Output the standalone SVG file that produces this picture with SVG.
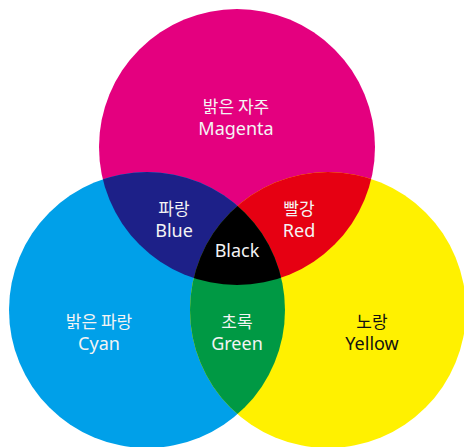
<svg xmlns="http://www.w3.org/2000/svg" width="464" height="447" viewBox="0 0 464 447">
<style>
.k{font-family:"Noto Sans CJK KR","Noto Sans",sans-serif;font-size:17px;text-anchor:middle;fill:#f4f4f4}
.e{font-family:"Noto Sans","Open Sans",sans-serif;font-size:18px;text-anchor:middle;fill:#f4f4f4}
.d{fill:#111}
</style>
<defs>
<clipPath id="cm"><circle cx="237" cy="147" r="138"/></clipPath>
<clipPath id="cc"><circle cx="147" cy="310" r="138"/></clipPath>
</defs>
<rect width="464" height="447" fill="#fff"/>
<g id="magenta"><circle cx="237" cy="147" r="138" fill="#E4007F"/><text class="k" x="236" y="113">밝은 자주</text><text class="e" x="236" y="135">Magenta</text></g>
<g id="cyan"><circle cx="147" cy="310" r="138" fill="#00A0E9"/><text class="k" x="99" y="328">밝은 파랑</text><text class="e" x="99" y="350">Cyan</text></g>
<g id="yellow"><circle cx="328" cy="310" r="138" fill="#FFF100"/><text class="k d" x="372" y="328">노랑</text><text class="e d" x="372" y="350">Yellow</text></g>
<g id="blue"><circle cx="147" cy="310" r="138" fill="#1D2088" clip-path="url(#cm)"/><text class="k" x="174" y="215">파랑</text><text class="e" x="174" y="237">Blue</text></g>
<g id="red"><circle cx="328" cy="310" r="138" fill="#E60012" clip-path="url(#cm)"/><text class="k" x="299" y="215">빨강</text><text class="e" x="299" y="237">Red</text></g>
<g id="green"><circle cx="328" cy="310" r="138" fill="#009944" clip-path="url(#cc)"/><text class="k" x="237" y="328">초록</text><text class="e" x="237" y="350">Green</text></g>
<g id="black"><g clip-path="url(#cm)"><circle cx="328" cy="310" r="138" fill="#000" clip-path="url(#cc)"/></g><text class="e" x="237" y="257">Black</text></g>
<g id="connectors"/>
</svg>
